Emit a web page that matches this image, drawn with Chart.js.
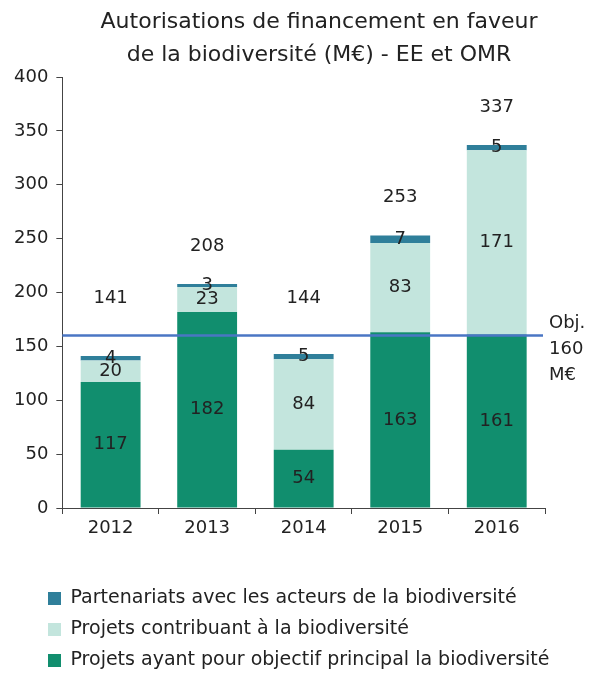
<!DOCTYPE html>
<html>
<head>
<meta charset="utf-8">
<script src="https://cdn.jsdelivr.net/npm/chart.js@4"></script>
<style>
  html, body { margin: 0; padding: 0; background: #fff; }
  #wrap { width: 598px; height: 673px; position: relative; }
</style>
</head>
<body>
<div id="wrap"><canvas id="myChart"></canvas></div>
<script>
var years = ["2012", "2013", "2014", "2015", "2016"];
var principal = [117, 182, 54, 163, 161];
var contributing = [20, 23, 84, 83, 171];
var partners = [4, 3, 5, 7, 5];
var totals = [141, 208, 144, 253, 337];
var yTicks = [0, 50, 100, 150, 200, 250, 300, 350, 400];
var objective = 160;
var titleLines = ["Autorisations de financement en faveur", "de la biodiversité (M€) - EE et OMR"];
var objLines = ["Obj.", "160", "M€"];

var FONT = "'DejaVu Sans', sans-serif";
var TEXT = "#222";

// title, objective line, values and totals
var extras = {
    id: 'extras',
    afterLayout: function (chart) {
        // push the legend a bit right and down
        chart.legend.left += 30;
        chart.legend.right += 30;
        chart.legend.top += 7;
        chart.legend.bottom += 7;
    },
    afterDatasetsDraw: function (chart) {
        var ctx = chart.ctx;
        var area = chart.chartArea;
        var y = chart.scales.y;
        ctx.save();

        // values inside the bars
        ctx.font = "18px " + FONT;
        ctx.fillStyle = TEXT;
        ctx.textAlign = 'center';
        ctx.textBaseline = 'middle';
        chart.data.datasets.forEach(function (ds, i) {
            var meta = chart.getDatasetMeta(i);
            meta.data.forEach(function (bar, j) {
                ctx.fillText(ds.data[j], bar.x, (bar.y + bar.base) / 2);
            });
        });

        // totals above the bars
        var x = chart.scales.x;
        totals.forEach(function (total, j) {
            var py = Math.min(y.getPixelForValue(total) - 38, y.getPixelForValue(195));
            ctx.fillText(total, x.getPixelForValue(j), py);
        });

        // objective line
        var oy = y.getPixelForValue(objective);
        ctx.strokeStyle = '#4a76c4';
        ctx.lineWidth = 2.5;
        ctx.beginPath();
        ctx.moveTo(area.left, oy);
        ctx.lineTo(area.right - 2, oy);
        ctx.stroke();

        ctx.textAlign = 'left';
        objLines.forEach(function (t, k) {
            ctx.fillText(t, area.right + 4, oy - 12 + k * 26);
        });

        // title
        ctx.font = "22px " + FONT;
        ctx.textAlign = 'center';
        titleLines.forEach(function (t, k) {
            ctx.fillText(t, 319, 22 + k * 33);
        });
        ctx.restore();
    }
};

var ctx = document.getElementById("myChart").getContext('2d');
var myChart = new Chart(ctx, {
    type: 'bar',
    data: {
        labels: years,
        datasets: [{
            label: 'Projets ayant pour objectif principal la biodiversité',
            data: principal,
            backgroundColor: '#118e6e'
        }, {
            label: 'Projets contribuant à la biodiversité',
            data: contributing,
            backgroundColor: '#c3e5dd'
        }, {
            label: 'Partenariats avec les acteurs de la biodiversité',
            data: partners,
            backgroundColor: '#2f7f9a'
        }]
    },
    options: {
        responsive: true,
        maintainAspectRatio: false,
        animation: false,
        layout: { padding: { top: 77, right: 53, left: 6, bottom: 0 } },
        datasets: { bar: { barPercentage: 0.62, categoryPercentage: 1 } },
        scales: {
            x: {
                stacked: true,
                grid: { drawOnChartArea: false, tickLength: 6, color: '#444', offset: true },
                border: { color: '#444' },
                ticks: { color: TEXT, font: { family: FONT, size: 18 }, padding: 4 },
                afterFit: function (s) { s.height = 62; }
            },
            y: {
                stacked: true,
                min: 0,
                max: 400,
                grid: { drawOnChartArea: false, tickLength: 6, color: '#444' },
                border: { color: '#444' },
                afterBuildTicks: function (s) { s.ticks = yTicks.map(function (v) { return { value: v }; }); },
                ticks: { color: TEXT, font: { family: FONT, size: 18 }, padding: 8 }
            }
        },
        plugins: {
            tooltip: { enabled: false },
            legend: {
                position: 'bottom',
                align: 'start',
                reverse: true,
                labels: {
                    color: TEXT,
                    font: { family: FONT, size: 19 },
                    boxWidth: 13,
                    boxHeight: 13,
                    padding: 12
                }
            }
        }
    },
    plugins: [extras]
});
</script>
</body>
</html>
